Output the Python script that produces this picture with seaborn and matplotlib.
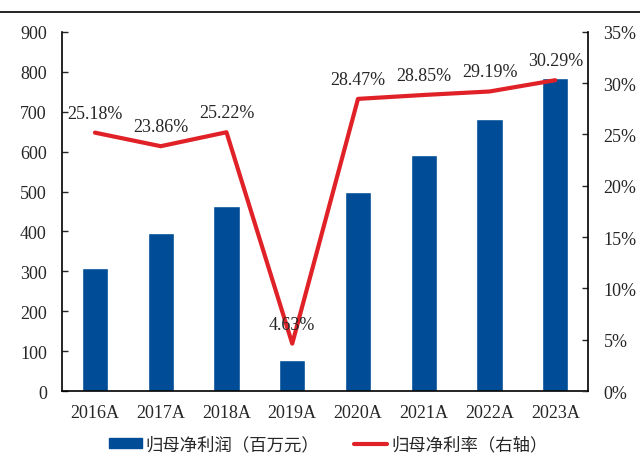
import matplotlib
matplotlib.use("Agg")
import matplotlib.pyplot as plt
import seaborn as sns
import numpy as np
import pandas as pd
from matplotlib.lines import Line2D
from matplotlib.patches import Patch

# data
years = ['2016A', '2017A', '2018A', '2019A', '2020A', '2021A', '2022A', '2023A']
net_profit = [308, 396, 464, 78, 499, 591, 682, 784]
net_margin = [25.18, 23.86, 25.22, 4.63, 28.47, 28.85, 29.19, 30.29]

bar_color = '#004C97'
line_color = '#E02228'

sns.set_theme(style='white')
plt.rcParams['font.family'] = ['Liberation Serif', 'Noto Sans CJK SC']
plt.rcParams['axes.unicode_minus'] = False

df = pd.DataFrame({'year': years, 'profit': net_profit, 'margin': net_margin})

fig = plt.figure(figsize=(6.4, 4.56), dpi=100)
ax = fig.add_axes([0.097, 0.140, 0.822, 0.788])

sns.barplot(data=df, x='year', y='profit', color=bar_color, width=0.4,
            saturation=1, ax=ax)
ax.set_ylim(0, 900)
ax.set_yticks(range(0, 901, 100))
ax.set_xlabel('')
ax.set_ylabel('')
ax.tick_params(axis='x', length=0, labelsize=13, pad=9)
ax.tick_params(axis='y', direction='in', length=4, width=1, labelsize=13,
               left=True, pad=11)
for s in ['top', 'right']:
    ax.spines[s].set_visible(False)
for s in ['left', 'bottom']:
    ax.spines[s].set_color('black')
    ax.spines[s].set_linewidth(1.2)

ax2 = ax.twinx()
sns.lineplot(x=np.arange(len(years)), y=net_margin, color=line_color,
             linewidth=3.0, ax=ax2)
ax2.set_ylim(0, 35)
ax2.set_yticks(range(0, 36, 5))
ax2.set_yticklabels([f'{v}%' for v in range(0, 36, 5)])
ax2.tick_params(axis='y', direction='in', length=4, width=1, labelsize=13,
                right=True, pad=11)
for s in ['top', 'left', 'bottom']:
    ax2.spines[s].set_visible(False)
ax2.spines['right'].set_color('black')
ax2.spines['right'].set_linewidth(1.2)
ax.set_xlim(-0.5, len(years) - 0.5)

for i, v in enumerate(net_margin):
    ax2.annotate(f'{v:.2f}%', (i, v), xytext=(0, 8), textcoords='offset points',
                 ha='center', va='bottom', fontsize=13)

# legend at bottom
handles = [Patch(color=bar_color, label='归母净利润（百万元）'),
           Line2D([], [], color=line_color, linewidth=3.0, label='归母净利率（右轴）')]
fig.legend(handles=handles, loc='center', bbox_to_anchor=(0.513, 0.022), ncol=2,
           frameon=False, fontsize=12.5, handlelength=1.9, handletextpad=0.25,
           columnspacing=2.0, handleheight=0.5, borderpad=0.2)

# top rule
fig.add_artist(Line2D([0, 1], [0.972, 0.972], color='black', linewidth=1.2,
                      transform=fig.transFigure))

fig.savefig('out.png', dpi=100)
